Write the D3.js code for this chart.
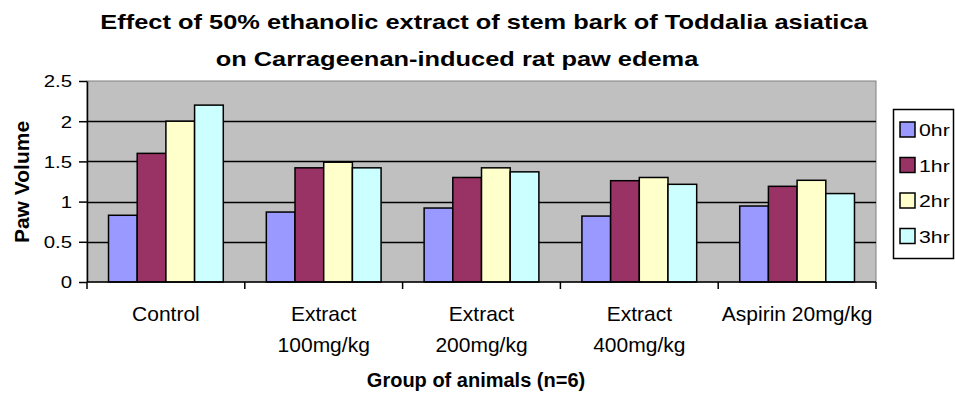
<!DOCTYPE html>
<html>
<head>
<meta charset="utf-8">
<script src="https://cdn.jsdelivr.net/npm/d3@7"></script>
<style>
  html, body { margin: 0; padding: 0; background: #ffffff; }
  svg { display: block; font-family: "Liberation Sans", Arial, sans-serif; }
</style>
</head>
<body>
<svg id="chart" width="955" height="396"></svg>
<script>
// Groups of animals (x categories); two-line labels split on "|"
const groups = ["Control", "Extract|100mg/kg", "Extract|200mg/kg", "Extract|400mg/kg", "Aspirin 20mg/kg"];
// Measurement times (series)
const times = ["0hr", "1hr", "2hr", "3hr"];
// Mean paw volume per group at each time
const paw0hr = [0.83, 0.87, 0.92, 0.82, 0.945];
const paw1hr = [1.60, 1.42, 1.30, 1.26, 1.19];
const paw2hr = [2.00, 1.49, 1.42, 1.30, 1.265];
const paw3hr = [2.20, 1.42, 1.37, 1.215, 1.10];
const yTicks = [0, 0.5, 1, 1.5, 2, 2.5];
const seriesColors = ["#9999FF", "#993366", "#FFFFCC", "#CCFFFF"];

const seriesValues = [paw0hr, paw1hr, paw2hr, paw3hr];

const svg = d3.select("#chart");
const plot = { left: 87, right: 876, top: 81, bottom: 282 };

// Text helper: optional horizontal widening (sx) and rotation
function label(parent, x, y, str, opts = {}) {
  const sx = opts.sx || 1;
  const rot = opts.rotate ? ` rotate(${opts.rotate})` : "";
  return parent.append("text")
    .attr("transform", `translate(${x},${y})${rot} scale(${sx},1)`)
    .attr("text-anchor", opts.anchor || "middle")
    .attr("font-size", opts.size || 18)
    .attr("font-weight", opts.bold ? "bold" : "normal")
    .attr("fill", "#000")
    .text(str);
}

const x = d3.scaleBand()
  .domain(groups)
  .range([plot.left, plot.right])
  .paddingInner(1.5 / 5.5)
  .paddingOuter(0.75 / 5.5);
const xs = d3.scaleBand().domain(times).range([0, x.bandwidth()]);
const y = d3.scaleLinear().domain([0, 2.5]).range([plot.bottom, plot.top]);
const color = d3.scaleOrdinal().domain(times).range(seriesColors);

// Title
label(svg, 484, 29, "Effect of 50% ethanolic extract of stem bark of Toddalia asiatica", { size: 21, bold: true, sx: 1.21 });
label(svg, 457, 66, "on Carrageenan-induced rat paw edema", { size: 21, bold: true, sx: 1.21 });

// Plot background and border
svg.append("rect")
  .attr("x", plot.left).attr("y", plot.top)
  .attr("width", plot.right - plot.left).attr("height", plot.bottom - plot.top)
  .attr("fill", "#C0C0C0").attr("stroke", "#808080").attr("stroke-width", 1);

// Horizontal gridlines
svg.append("g").selectAll("line")
  .data(yTicks.filter(d => d > 0 && d < 2.5))
  .join("line")
  .attr("x1", plot.left).attr("x2", plot.right)
  .attr("y1", d => Math.round(y(d)) + 0.5).attr("y2", d => Math.round(y(d)) + 0.5)
  .attr("stroke", "#000").attr("stroke-width", 1.5);

// Bars
const barData = [];
groups.forEach((g, gi) => {
  times.forEach((t, ti) => barData.push({ group: g, time: t, value: seriesValues[ti][gi] }));
});
svg.append("g").selectAll("rect")
  .data(barData)
  .join("rect")
  .attr("x", d => x(d.group) + xs(d.time))
  .attr("y", d => y(d.value))
  .attr("width", xs.bandwidth())
  .attr("height", d => y(0) - y(d.value))
  .attr("fill", d => color(d.time))
  .attr("stroke", "#000").attr("stroke-width", 1.5);

// Y axis
const yAxis = svg.append("g")
  .attr("transform", `translate(${plot.left},0)`)
  .call(d3.axisLeft(y).tickValues(yTicks).tickFormat(d3.format("")).tickSize(8).tickSizeOuter(0));
yAxis.select(".domain").attr("stroke", "#000").attr("stroke-width", 1.5);
yAxis.selectAll(".tick line").attr("stroke", "#000").attr("stroke-width", 1.5);
yAxis.selectAll(".tick text")
  .attr("font-size", 17).attr("font-family", "Liberation Sans, Arial, sans-serif")
  .attr("fill", "#000")
  .attr("x", 0).attr("dy", "0.35em")
  .attr("transform", "translate(-15,0) scale(1.2,1)");

// X axis: line and tick marks at category boundaries
const xAxis = svg.append("g");
xAxis.append("line")
  .attr("x1", plot.left).attr("x2", plot.right)
  .attr("y1", plot.bottom).attr("y2", plot.bottom)
  .attr("stroke", "#000").attr("stroke-width", 1.5);
const tickXs = d3.range(groups.length + 1).map(i => plot.left + i * x.step());
xAxis.selectAll("line.tk")
  .data(tickXs)
  .join("line").attr("class", "tk")
  .attr("x1", d => d).attr("x2", d => d)
  .attr("y1", plot.bottom).attr("y2", plot.bottom + 7)
  .attr("stroke", "#000").attr("stroke-width", 1.5);

// Category labels
const labels = svg.append("g");
groups.forEach(g => {
  const cx = x(g) + x.bandwidth() / 2;
  g.split("|").forEach((part, i) => {
    label(labels, cx, 321 + i * 31, part, { size: 21 });
  });
});

// Axis titles
label(svg, 476, 387, "Group of animals (n=6)", { size: 20, bold: true });
label(svg, 29, 182, "Paw Volume", { size: 21, bold: true, rotate: -90 });

// Legend
const legend = svg.append("g");
legend.append("rect")
  .attr("x", 893.5).attr("y", 109.5).attr("width", 60).attr("height", 149)
  .attr("fill", "#fff").attr("stroke", "#000").attr("stroke-width", 1.5);
const items = legend.selectAll("g.item")
  .data(times)
  .join("g").attr("class", "item")
  .attr("transform", (d, i) => `translate(900,${122 + i * 35.5})`);
items.append("rect")
  .attr("width", 15).attr("height", 15)
  .attr("fill", d => color(d)).attr("stroke", "#000").attr("stroke-width", 1.5);
items.each(function (d) {
  label(d3.select(this), 19, 14, d, { size: 17, anchor: "start", sx: 1.25 });
});
</script>
</body>
</html>
